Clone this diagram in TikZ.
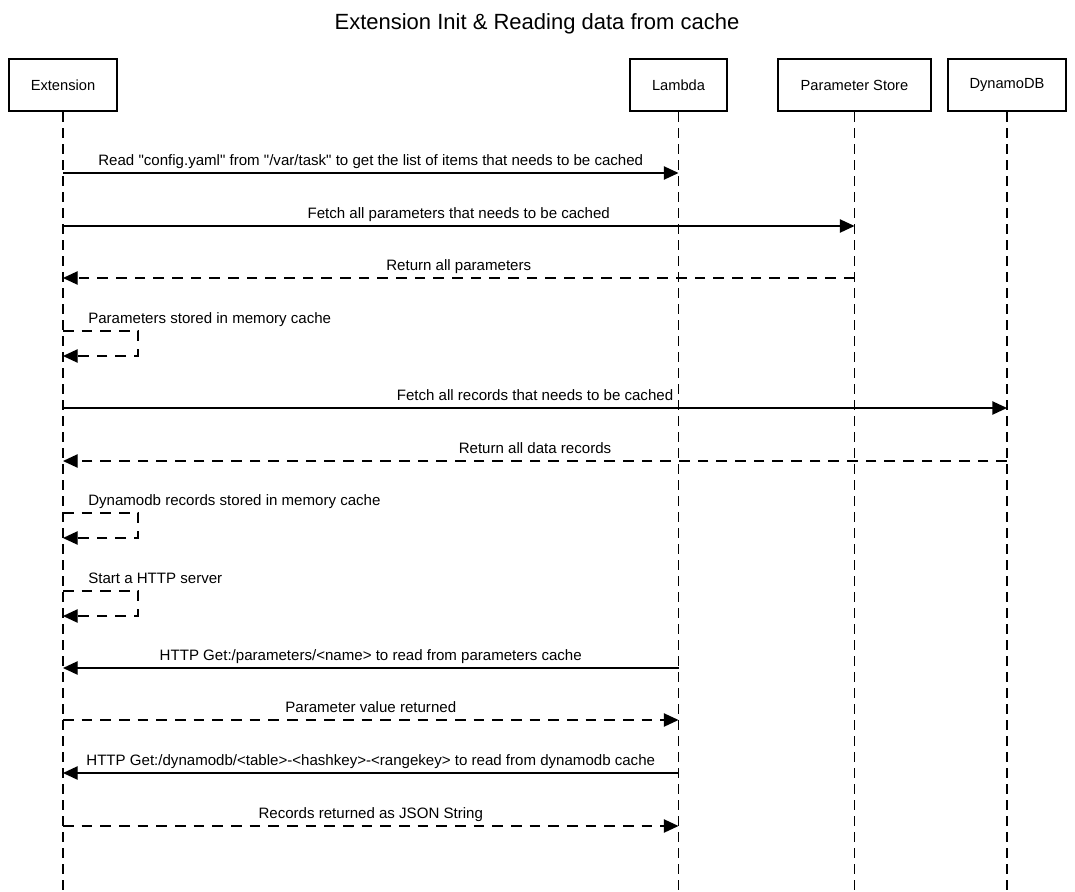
\documentclass[tikz,border=0pt]{standalone}
\usepackage{fontspec}
\setmainfont{Liberation Sans}
\usetikzlibrary{arrows.meta}

\begin{document}
\begin{tikzpicture}[x=0.75pt,y=-0.75pt,
	actor/.style={draw, line width=2.2pt, minimum height=39pt, inner sep=0pt, font=\fontsize{11}{13}\selectfont},
	life/.style={line width=1.1pt, dash pattern=on 7.5pt off 4.5pt},
	call/.style={-{Triangle[length=11pt,width=10pt]}, line width=1pt},
	reply/.style={call, dash pattern=on 8pt off 6pt},
	msg/.style={midway, anchor=base, yshift=5.5pt, inner sep=0pt, font=\fontsize{11.3}{13}\selectfont},
	selfmsg/.style={anchor=base west, inner sep=0pt, font=\fontsize{11.3}{13}\selectfont}
]

	\useasboundingbox	(0,0)	rectangle	(1075,892);

	\node 	(title)	at	(537,30)	[anchor=base, font=\fontsize{16.5}{19}\selectfont]{Extension Init \& Reading data from cache};

	\node 	(ext)	at	(63,85) 	[actor, minimum width=81pt]{Extension};
	\node 	(lam)	at	(678.5,85) 	[actor, minimum width=72.75pt]{Lambda};
	\node 	(ps)	at	(854.5,85) 	[actor, minimum width=114.75pt]{Parameter Store};
	\node 	(ddb)	at	(1007,85) 	[actor, minimum width=88.5pt]{DynamoDB};

	\coordinate	(bottom)	at	(0,892);
	\foreach \p in {ext,lam,ps,ddb}
		\draw[life]	(\p.south)	--	(\p |- bottom);

	\foreach \n/\y in {1/173,2/226,3/278,4/331,5/408,6/461,7/513,8/591,9/668,10/720,11/773,12/826}
		\coordinate	(r\n)	at	(0,\y);

	\draw[call]	(ext |- r1)	--	(lam |- r1)	node[msg]{Read \textquotedbl config.yaml\textquotedbl{} from \textquotedbl/var/task\textquotedbl{} to get the list of items that needs to be cached};
	\draw[call]	(ext |- r2)	--	(ps |- r2)	node[msg]{Fetch all parameters that needs to be cached};
	\draw[reply]	(ps |- r3)	--	(ext |- r3)	node[msg]{Return all parameters};

	\draw[reply]	(ext |- r4)	-- ++(75,0) -- ++(0,25) -- ++(-75,0);
	\node 	(s4)	at	(88,323)	[selfmsg]{Parameters stored in memory cache};

	\draw[call]	(ext |- r5)	--	(ddb |- r5)	node[msg]{Fetch all records that needs to be cached};
	\draw[reply]	(ddb |- r6)	--	(ext |- r6)	node[msg]{Return all data records};

	\draw[reply]	(ext |- r7)	-- ++(75,0) -- ++(0,25) -- ++(-75,0);
	\node 	(s7)	at	(88,505)	[selfmsg]{Dynamodb records stored in memory cache};

	\draw[reply]	(ext |- r8)	-- ++(75,0) -- ++(0,25) -- ++(-75,0);
	\node 	(s8)	at	(88,583)	[selfmsg]{Start a HTTP server};

	\draw[call]	(lam |- r9)	--	(ext |- r9)	node[msg]{HTTP Get:/parameters/<name> to read from parameters cache};
	\draw[reply]	(ext |- r10)	--	(lam |- r10)	node[msg]{Parameter value returned};
	\draw[call]	(lam |- r11)	--	(ext |- r11)	node[msg]{HTTP Get:/dynamodb/<table>-<hashkey>-<rangekey> to read from dynamodb cache};
	\draw[reply]	(ext |- r12)	--	(lam |- r12)	node[msg]{Records returned as JSON String};

\end{tikzpicture}
\end{document}
